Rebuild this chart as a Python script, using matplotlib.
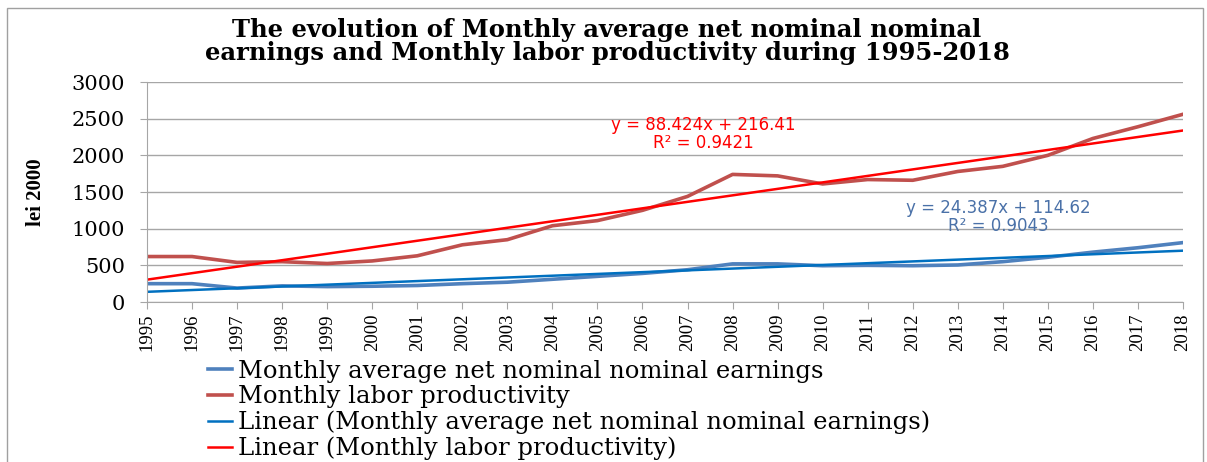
import numpy as np
import matplotlib
matplotlib.use("Agg")
import matplotlib.pyplot as plt
from matplotlib.patches import Rectangle

years = list(range(1995, 2019))
earnings = [250, 250, 190, 220, 210, 215, 225, 250, 270, 310, 350, 390,
            440, 520, 520, 495, 500, 495, 505, 550, 610, 680, 740, 810]
productivity = [620, 620, 540, 550, 525, 560, 630, 780, 850, 1040, 1110, 1250,
                1440, 1740, 1720, 1610, 1670, 1660, 1780, 1850, 2000, 2230, 2390, 2560]
trend_earn = (24.387, 114.62, 0.9043)
trend_prod = (88.424, 216.41, 0.9421)
y_ticks = [0, 500, 1000, 1500, 2000, 2500, 3000]

labels = ["Monthly average net nominal nominal earnings",
          "Monthly labor productivity",
          "Linear (Monthly average net nominal nominal earnings)",
          "Linear (Monthly labor productivity)"]

serif = ["Liberation Serif", "DejaVu Serif"]
wide_serif = ["DejaVu Serif"]
sans = ["DejaVu Sans"]

fig = plt.figure(figsize=(12.07, 4.62), dpi=100)
ax = fig.add_axes([0.1218, 0.3463, 0.8583, 0.4762])

fig.patches.append(Rectangle((7 / 1207, -0.01), 1196 / 1207, 1 - 8 / 462 + 0.01,
                             transform=fig.transFigure, fill=False,
                             edgecolor="#A0A0A0", linewidth=1.0))

idx = np.arange(1, len(years) + 1)
x = np.array(years)
l1, = ax.plot(x, earnings, color="#4F81BD", lw=2.6, solid_joinstyle="round")
l2, = ax.plot(x, productivity, color="#C0504D", lw=2.6, solid_joinstyle="round")
l3, = ax.plot(x, trend_earn[0] * idx + trend_earn[1], color="#0070C0", lw=1.8)
l4, = ax.plot(x, trend_prod[0] * idx + trend_prod[1], color="#FF0000", lw=1.8)

ax.set_xlim(1995, 2018)
ax.set_ylim(0, 3000)
ax.set_yticks(y_ticks)
ax.set_yticklabels([str(v) for v in y_ticks], fontsize=15, family=wide_serif)
ax.set_xticks(years)
ax.set_xticklabels([str(y) for y in years], rotation=90, fontsize=13.5, family=serif)
ax.yaxis.grid(True, color="#A6A6A6", lw=1.0)
ax.set_axisbelow(True)
for s in ["top", "right"]:
    ax.spines[s].set_visible(False)
for s in ["left", "bottom"]:
    ax.spines[s].set_color("#A6A6A6")
ax.tick_params(axis="both", color="#A6A6A6", length=5)
ax.tick_params(axis="y", pad=11)

ax.set_ylabel("lei 2000", fontsize=15, fontweight="bold", family=serif, labelpad=18)

fig.suptitle("The evolution of Monthly average net nominal nominal\n"
             "earnings and Monthly labor productivity during 1995-2018",
             x=0.503, y=0.962, fontsize=17.5, fontweight="bold", family=wide_serif,
             linespacing=0.95)

ax.text(703 / 1207, 1 - 125 / 462, "y = 88.424x + 216.41", transform=fig.transFigure,
        color="#FF0000", fontsize=12, family=sans, ha="center", va="center")
ax.text(703 / 1207, 1 - 143 / 462, "R² = 0.9421", transform=fig.transFigure,
        color="#FF0000", fontsize=12, family=sans, ha="center", va="center")
ax.text(998 / 1207, 1 - 208 / 462, "y = 24.387x + 114.62", transform=fig.transFigure,
        color="#4A71A8", fontsize=12, family=sans, ha="center", va="center")
ax.text(998 / 1207, 1 - 226 / 462, "R² = 0.9043", transform=fig.transFigure,
        color="#4A71A8", fontsize=12, family=sans, ha="center", va="center")

fig.legend([l1, l2, l3, l4], labels, loc="upper left",
           bbox_to_anchor=(198 / 1207, 1 - 350 / 462), frameon=False,
           prop={"family": wide_serif, "size": 17.5}, handlelength=1.0, handletextpad=0.25,
           labelspacing=0.1, borderaxespad=0)

fig.savefig("out.png", dpi=100)
